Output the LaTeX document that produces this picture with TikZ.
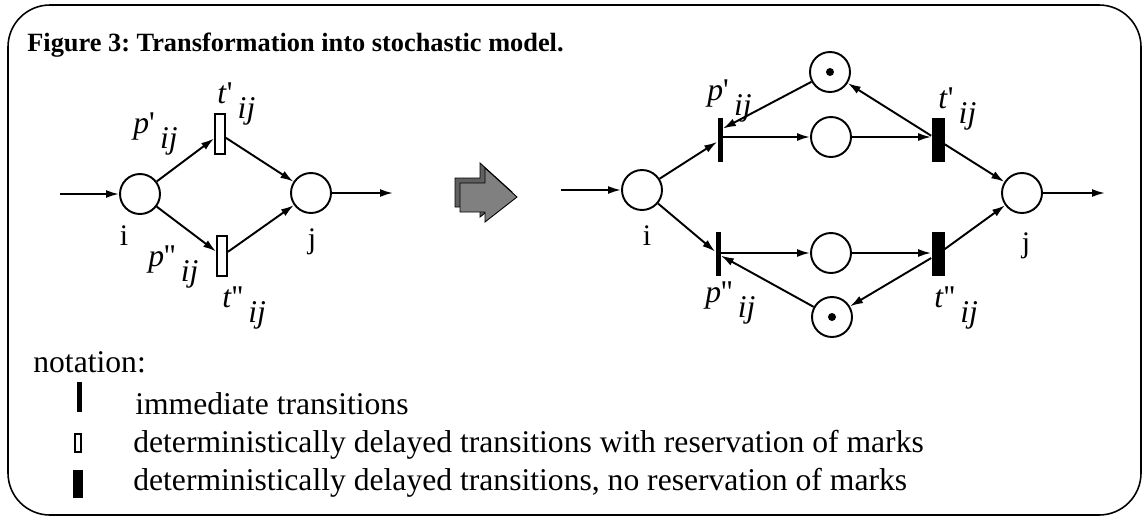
\documentclass[tikz,border=0pt]{standalone}
\usepackage{fontspec}
\setmainfont{Liberation Serif}
\usetikzlibrary{arrows.meta}
\frenchspacing

\newcommand{\pr}{\textquotesingle}
\newcommand{\lbl}[2]{\textit{#1}#2\raisebox{-0.5em}{\,\textit{ij}}}

\begin{document}
\begin{tikzpicture}
  [x=0.02cm,y=-0.02cm,
   place/.style={draw,circle,line width=1.1pt,minimum size=0.8cm,inner sep=0pt},
   immbar/.style={rectangle,fill=black,inner sep=0pt,minimum width=0.1cm,minimum height=0.88cm},
   detbar/.style={rectangle,fill=black,inner sep=0pt,minimum width=0.26cm,minimum height=0.88cm},
   resbar/.style={rectangle,draw,fill=white,line width=1.1pt,inner sep=0pt,minimum width=0.2cm,minimum height=0.8cm},
   flow/.style={line width=1.1pt,-{Latex[length=2.6mm,width=1.6mm]}},
   lab/.style={inner sep=0pt,anchor=base west,font=\fontsize{18}{20}\selectfont},
   pname/.style={inner sep=0pt,anchor=base,font=\fontsize{17}{20}\selectfont},
   txt/.style={inner sep=0pt,anchor=base west,font=\fontsize{18}{22}\selectfont}]
  \useasboundingbox (0,0) rectangle (1143,518);
  \draw[line width=0.9pt,rounded corners=0.84cm] (8,5) rectangle (1141,515);
  \node[inner sep=0pt,anchor=base west,font=\bfseries\fontsize{15}{18}\selectfont] (title) at (27,51)
    {Figure 3: Transformation into stochastic model.};

  % net with reservation
  \node[place] (i1) at (140,194) {};
  \node[place] (j1) at (311,193) {};
  \node[resbar] (tp1) at (220,134) {};
  \node[resbar] (tq1) at (222,256) {};
  \coordinate (in1) at (60,194);
  \coordinate (out1) at (393,193);
  \node[lab] (lp1) at (133,133) {\lbl{p}{\pr}};
  \node[lab] (lt1) at (217,103) {\lbl{t}{\pr}};
  \node[lab] (lq1) at (148,266) {\lbl{p}{\pr\pr}};
  \node[lab] (lu1) at (222,307) {\lbl{t}{\pr\pr}};
  \node[pname] (ni1) at (124,245) {i};
  \node[pname] (nj1) at (312,248) {j};

  % transformation arrow
  \foreach \d/\c in {5/gray!75!black, 0/gray}
    \filldraw[fill=\c,draw=black,line width=0.5pt,shift={(-\d,-\d)}]
      (460,183) -- (485,183) -- (485,168) -- (517,197) -- (485,222) -- (485,212) -- (460,212) -- cycle;

  % stochastic net
  \node[place] (i2) at (642,190) {};
  \node[place] (j2) at (1022,193) {};
  \node[immbar] (pp2) at (720,140) {};
  \node[immbar] (pq2) at (718,254) {};
  \node[detbar] (tp2) at (938,140) {};
  \node[detbar] (tq2) at (938,254) {};
  \node[place] (m1) at (830,72) {};
  \node[place] (m2) at (831,137) {};
  \node[place] (m3) at (831,253) {};
  \node[place] (m4) at (832,317) {};
  \foreach \m in {m1,m4}
    \fill (\m) circle (0.08cm);
  \coordinate (in2) at (561,190);
  \coordinate (out2) at (1105,193);
  \node[lab] (lp2) at (707,100) {\lbl{p}{\pr}};
  \node[lab] (lt2) at (938,108) {\lbl{t}{\pr}};
  \node[lab] (lq2) at (705,302) {\lbl{p}{\pr\pr}};
  \node[lab] (lu2) at (934,307) {\lbl{t}{\pr\pr}};
  \node[pname] (ni2) at (647,245) {i};
  \node[pname] (nj2) at (1026,252) {j};

  \foreach \from/\to in {in1/i1, i1/tp1, tp1/j1, i1/tq1, tq1/j1, j1/out1,
                         in2/i2, i2/pp2, tp2/j2, i2/pq2, tq2/j2, j2/out2,
                         tp2/m1, m1/pp2.76, tq2/m4, m4/pq2}
    \draw[flow] (\from) -- (\to);
  \draw[flow] (pp2 |- m2) -- (m2);
  \draw[flow] (m2) -- (tp2.west |- m2);
  \draw[flow] (pq2 |- m3) -- (m3);
  \draw[flow] (m3) -- (tq2.west |- m3);

  % notation
  \node[txt] (nota) at (33,372) {notation:};
  \node[immbar,minimum height=0.6cm] (k1) at (79,397) {};
  \node[txt] (d1) at (135,414) {immediate transitions};
  \node[resbar,minimum width=0.12cm,minimum height=0.36cm] (k2) at (78,443) {};
  \node[txt] (d2) at (133,452) {deterministically delayed transitions with reservation of marks};
  \node[detbar,minimum width=0.2cm,minimum height=0.56cm] (k3) at (78,484) {};
  \node[txt] (d3) at (133,490) {deterministically delayed transitions, no reservation of marks};
\end{tikzpicture}
\end{document}
